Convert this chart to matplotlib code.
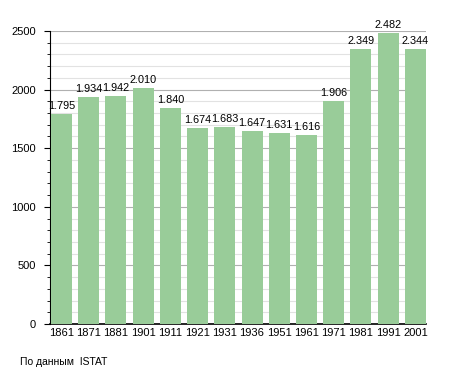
import matplotlib
matplotlib.use("Agg")
import matplotlib.pyplot as plt
from matplotlib.ticker import MultipleLocator

years = ["1861", "1871", "1881", "1901", "1911", "1921", "1931", "1936", "1951", "1961", "1971", "1981", "1991", "2001"]
population = [1795, 1934, 1942, 2010, 1840, 1674, 1683, 1647, 1631, 1616, 1906, 2349, 2482, 2344]
labels = ["1.795", "1.934", "1.942", "2.010", "1.840", "1.674", "1.683", "1.647", "1.631", "1.616", "1.906", "2.349", "2.482", "2.344"]

plt.rcParams['font.family'] = ['Liberation Sans', 'DejaVu Sans']

fig = plt.figure(figsize=(4.55, 3.73), dpi=100)
ax = fig.add_axes([50/455, 1-324/373, (426-50)/455, (324-31)/373])

x = list(range(len(years)))
ax.bar(x, population, width=0.77, color='#99cc99', zorder=3)
for xi, v, lab in zip(x, population, labels):
    ax.text(xi, v + 25, lab, ha='center', va='bottom', fontsize=7.8, zorder=4)

ax.set_xlim(-0.42, 13.39)
ax.set_ylim(0, 2500)
ax.yaxis.set_major_locator(MultipleLocator(500))
ax.yaxis.set_minor_locator(MultipleLocator(100))
ax.grid(axis='y', which='major', color='#b0b0b0', linewidth=0.8, zorder=1)
ax.grid(axis='y', which='minor', color='#e2e2e2', linewidth=0.8, zorder=1)
ax.set_xticks(x)
ax.set_xticklabels(years, fontsize=8)
ax.tick_params(axis='x', length=0, pad=3)
ax.tick_params(axis='y', which='major', length=4, labelsize=8, pad=6)
ax.tick_params(axis='y', which='minor', length=2.5)
for s in ['top', 'right']:
    ax.spines[s].set_visible(False)
ax.spines['left'].set_color('black')
ax.spines['bottom'].set_color('black')
ax.spines['bottom'].set_linewidth(1.2)

fig.text(20/455, 1-362/373, "По данным  ISTAT", fontsize=7.5, va='center', ha='left')

fig.savefig("out.png", dpi=100)
